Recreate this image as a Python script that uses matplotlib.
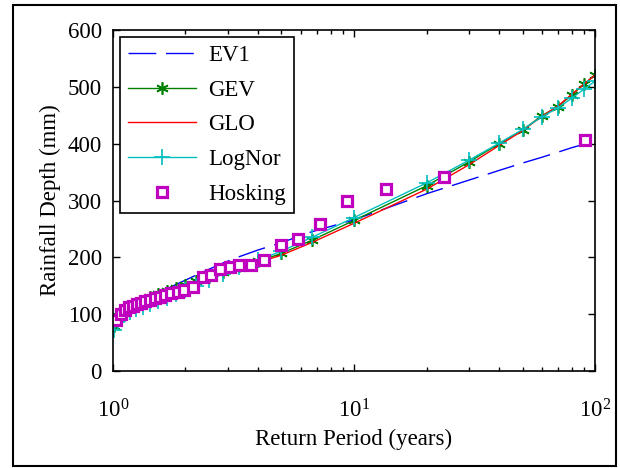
import matplotlib
matplotlib.use('Agg')
import matplotlib.pyplot as plt
from matplotlib.patches import Rectangle

plt.rcParams['font.family'] = ['Liberation Serif', 'DejaVu Serif']
plt.rcParams['mathtext.fontset'] = 'custom'
plt.rcParams['mathtext.rm'] = 'Liberation Serif'
plt.rcParams['mathtext.it'] = 'Liberation Serif:italic'

# return periods where the fitted curves were evaluated
T_fit = [1.01, 1.05, 1.11, 1.18, 1.25, 1.33, 1.43, 1.54, 1.67, 1.82, 2.0, 2.22, 2.5,
         2.86, 3.33, 4.0, 5.0, 6.67, 10, 20, 30, 40, 50, 60, 70, 80, 90, 100]

ev1 = [67, 85, 98, 108, 116, 124, 131, 138, 145, 152, 160, 169, 179,
       190, 201, 213, 226, 245, 266, 312, 336, 353, 366, 376, 385, 393, 399, 405]
gev = [80, 97, 107, 114, 119, 124, 130, 135, 141, 147, 152, 158, 166,
       175, 184, 193, 207, 230, 265, 326, 368, 400, 424, 449, 465, 486, 505, 521]
glo = [82, 98, 108, 114, 119, 124, 129, 134, 139, 145, 150, 156, 164,
       173, 182, 191, 204, 226, 260, 320, 363, 397, 423, 448, 466, 487, 505, 521]
lognor = [72, 88, 98, 104, 109, 113, 118, 123, 129, 135, 142, 150, 160,
          171, 183, 195, 211, 235, 270, 331, 371, 401, 425, 447, 463, 480, 496, 510]

# observed (Hosking) points
T_obs = [1.03, 1.08, 1.12, 1.17, 1.21, 1.26, 1.31, 1.36, 1.42, 1.49, 1.57, 1.65, 1.75,
         1.86, 1.98, 2.15, 2.36, 2.56, 2.78, 3.05, 3.33, 3.75, 4.24, 4.97, 5.87, 7.25,
         9.36, 13.6, 23.6, 91.0]
hosking = [90, 101, 108, 112, 115, 118, 120, 123, 125, 128, 131, 134, 137,
           140, 143, 148, 165, 169, 179, 183, 187, 186, 196, 222, 232, 258,
           300, 320, 341, 407]

fig = plt.figure(figsize=(6.2, 4.68), dpi=100)
ax = fig.add_axes([0.182, 0.207, 0.778, 0.729])

ax.semilogx(T_fit, ev1, color=(0, 0, 1), lw=1, dashes=(20, 7), label='EV1')
ax.semilogx(T_fit, gev, color=(0, 0.5, 0), lw=1, marker=(6, 2, 0), ms=9, mew=1.2, label='GEV')
ax.semilogx(T_fit, glo, color=(1, 0, 0), lw=1, label='GLO')
ax.semilogx(T_fit, lognor, color=(0, 0.75, 0.75), lw=1, marker='+', ms=12, mew=1.2, label='LogNor')
ax.semilogx(T_obs, hosking, ls='none', marker='s', ms=6.5, mfc='white', mec=(0.75, 0, 0.75),
            mew=2.3, label='Hosking')

ax.set_xlim(1, 100)
ax.set_ylim(0, 600)
ax.set_yticks(range(0, 601, 100))
ax.tick_params(which='both', direction='in', top=True, right=True, labelsize=16.5, width=1)
ax.tick_params(which='major', length=5, pad=8)
ax.tick_params(axis='x', which='major', pad=20)
ax.tick_params(which='minor', length=3)
for s in ax.spines.values():
    s.set_linewidth(1.2)

ax.set_xlabel('Return Period (years)', fontsize=16.5, labelpad=5)
ax.set_ylabel('Rainfall Depth (mm)', fontsize=16.5, labelpad=5)

leg = ax.legend(loc='upper left', fontsize=16.5, frameon=True, fancybox=False,
                edgecolor='black', framealpha=1, handlelength=3.0, labelspacing=0.6,
                borderpad=0.35, borderaxespad=0.3, handletextpad=0.5)
leg.get_frame().set_linewidth(1.2)

fig.patches.append(Rectangle((0.021, 0.004), 0.972, 0.985, transform=fig.transFigure,
                             fill=False, edgecolor='black', lw=1.5))

plt.savefig('out.png', dpi=100)
